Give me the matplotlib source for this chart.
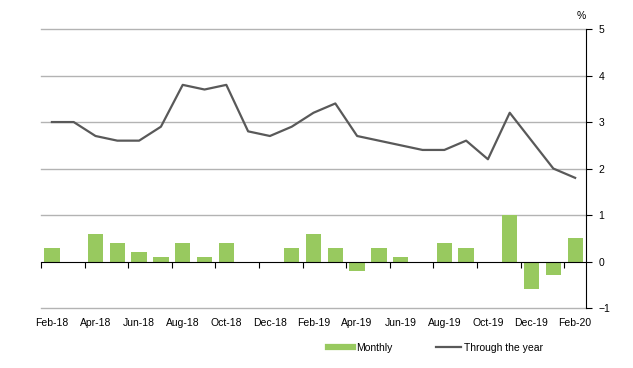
import numpy as np
import matplotlib.pyplot as plt
from matplotlib.lines import Line2D

plt.rcParams['font.family'] = ['Liberation Sans', 'DejaVu Sans']

# months Feb-18 .. Feb-20
months = ['Feb-18', 'Mar-18', 'Apr-18', 'May-18', 'Jun-18', 'Jul-18', 'Aug-18', 'Sep-18',
          'Oct-18', 'Nov-18', 'Dec-18', 'Jan-19', 'Feb-19', 'Mar-19', 'Apr-19', 'May-19',
          'Jun-19', 'Jul-19', 'Aug-19', 'Sep-19', 'Oct-19', 'Nov-19', 'Dec-19', 'Jan-20', 'Feb-20']
monthly = [0.3, 0.0, 0.6, 0.4, 0.2, 0.1, 0.4, 0.1, 0.4, 0.0, 0.0, 0.3, 0.6,
           0.3, -0.2, 0.3, 0.1, 0.0, 0.4, 0.3, 0.0, 1.0, -0.6, -0.3, 0.5]
through_year = [3.0, 3.0, 2.7, 2.6, 2.6, 2.9, 3.8, 3.7, 3.8, 2.8, 2.7, 2.9, 3.2,
                3.4, 2.7, 2.6, 2.5, 2.4, 2.4, 2.6, 2.2, 3.2, 2.6, 2.0, 1.8]

x = np.arange(len(months))
bar_col = '#98C95F'
line_col = '#595959'

fig = plt.figure(figsize=(6.33, 3.68), dpi=100)
ax = fig.add_axes([0.0648, 0.163, 0.861, 0.758])

# gridlines (skip zero, drawn as axis)
for v in [-1, 1, 2, 3, 4, 5]:
    ax.axhline(v, color='#b3b3b3', lw=1, zorder=0, clip_on=False)

ax.bar(x, monthly, width=0.7, color=bar_col, zorder=2)
ax.plot(x, through_year, color=line_col, lw=1.6, zorder=3)

ax.set_xlim(-0.5, len(months) - 0.5)
ax.set_ylim(-1, 5)

# spines
for s in ['top', 'left']:
    ax.spines[s].set_visible(False)
ax.spines['bottom'].set_position(('data', 0))
ax.spines['bottom'].set_color('black')
ax.spines['right'].set_color('black')

# x ticks at every second category boundary, labels at the bottom
ax.set_xticks(np.arange(-0.5, len(months), 2))
ax.tick_params(axis='x', direction='out', length=4, labelbottom=False, color='black')
for i in range(0, len(months), 2):
    ax.text(i, -0.035, months[i], transform=ax.get_xaxis_transform(),
            ha='center', va='top', fontsize=7.5)

ax.yaxis.tick_right()
ax.set_yticks([-1, 0, 1, 2, 3, 4, 5])
ax.tick_params(axis='y', direction='out', length=4, labelsize=7.5, pad=5)
ax.text(1.0, 1.03, '%', transform=ax.transAxes, ha='right', va='bottom', fontsize=7.5)

handles = [Line2D([], [], color=bar_col, lw=4.5),
           Line2D([], [], color=line_col, lw=1.6)]
fig.legend(handles, ['Monthly', 'Through the year'], loc='center',
           bbox_to_anchor=(0.688, 0.054), ncol=2, frameon=False, fontsize=7.5,
           handlelength=2.4, columnspacing=4.2, handletextpad=0.3)

fig.savefig('out.png', dpi=100)
